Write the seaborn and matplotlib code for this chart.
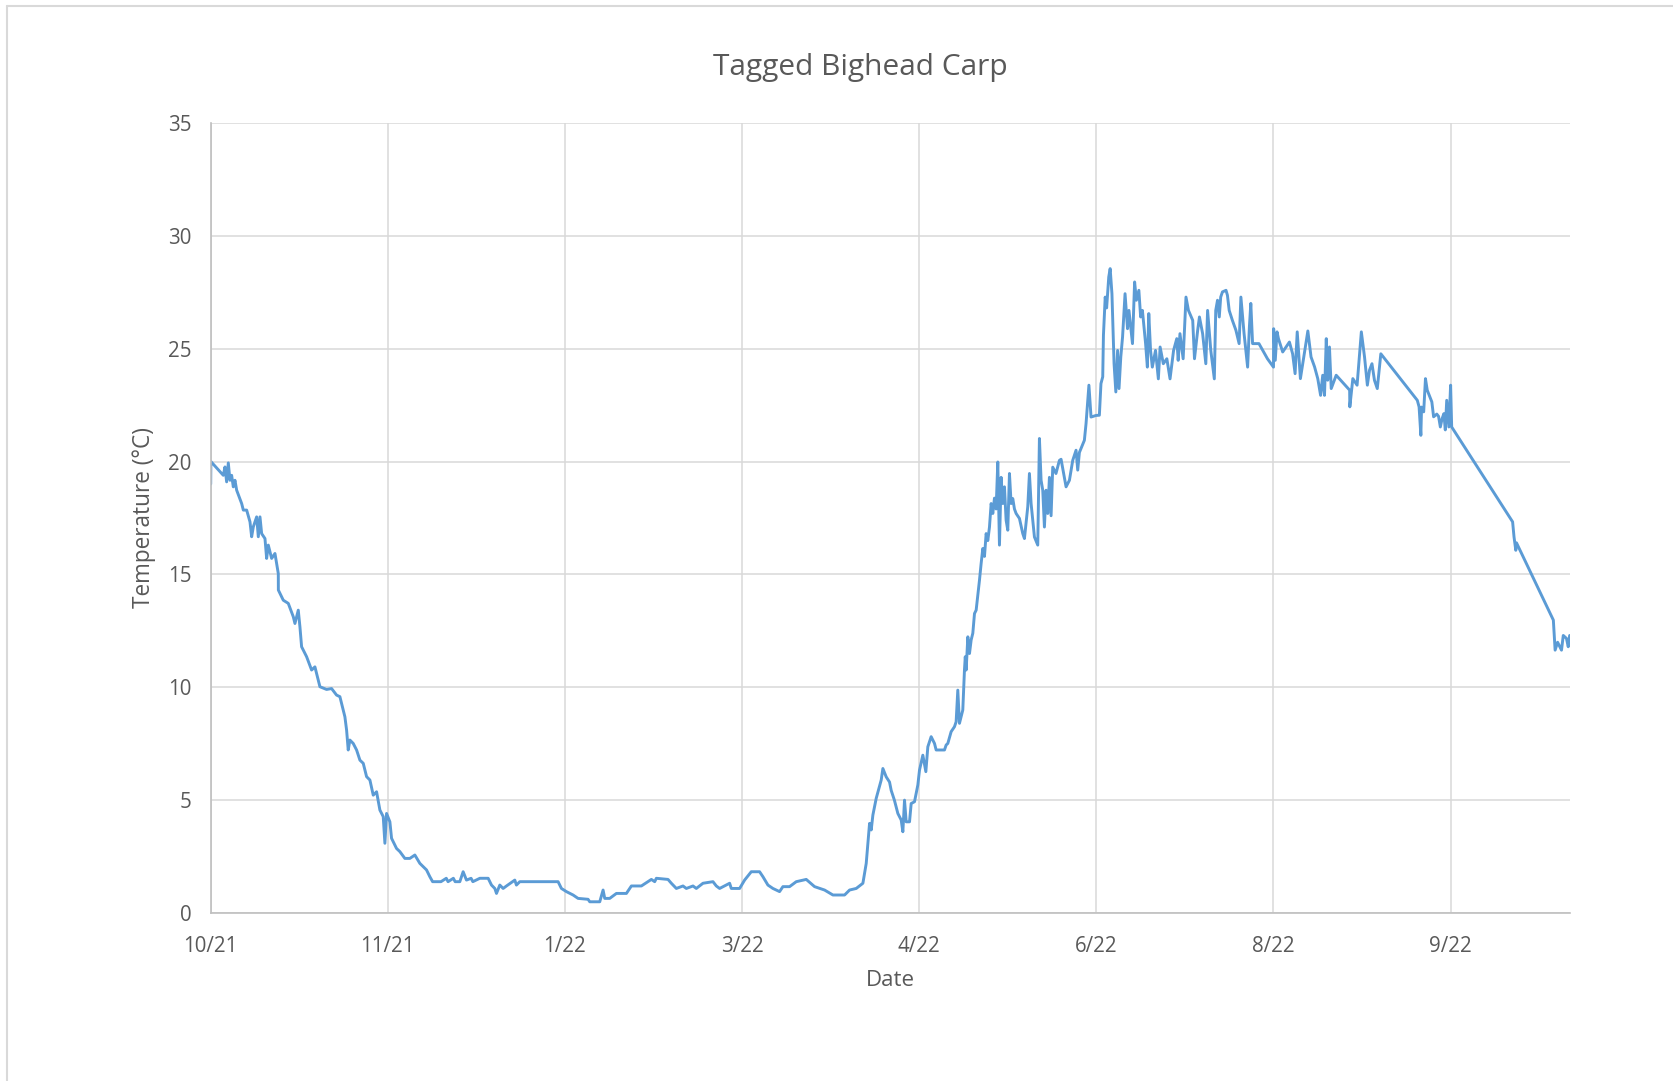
import pandas as pd
import numpy as np
import matplotlib
matplotlib.use("Agg")
import matplotlib.pyplot as plt
import seaborn as sns

# Data (days since first record, temperature in C)
days = [
    0.0, 0.05, 3.56, 4.03, 4.50, 4.97, 5.44, 5.91, 6.38, 6.85, 7.33, 8.74, 9.21, 10.15,
    11.09, 11.56, 12.03, 12.97, 13.44, 13.91, 14.38, 15.32, 15.79, 16.26, 17.20, 18.14,
    19.08, 19.10, 20.49, 21.90, 23.31, 23.78, 24.72, 25.19, 25.66, 27.07, 28.48, 29.42,
    30.83, 32.71, 34.12, 35.53, 36.47, 37.88, 38.36, 38.82, 39.29, 40.23, 41.18, 42.12,
    43.06, 44.00, 44.94, 45.88, 46.82, 47.76, 48.70, 49.17, 49.64, 50.58, 51.05, 52.46,
    53.40, 54.81, 56.22, 57.63, 59.04, 60.92, 61.86, 62.64, 65.0, 66.5, 67.0, 68.5, 69.0,
    70.32, 71.26, 72.20, 73.5, 74.0, 75.97, 78.32, 79.26, 80.20, 80.67, 81.61, 82.55,
    83.49, 85.84, 86.3, 87.25, 98.06, 99.0, 100.41, 102.29, 103.70, 106.52, 107.0,
    109.82, 110.76, 111.23, 112.64, 114.52, 117.34, 118.75, 121.57, 124.39, 125.33,
    125.80, 129.09, 130.03, 131.44, 133.32, 134.26, 136.14, 137.08, 138.96, 141.78,
    142.72, 143.66, 146.48, 146.95, 149.30, 150.71, 152.59, 154.94, 155.88, 157.29,
    158.70, 160.58, 161.52, 163.4, 165.29, 168.11, 170.46, 173.28, 175.64, 178.93,
    180.34, 182.22, 184.10, 185.04, 185.98, 186.45, 186.92, 187.86, 189.27, 189.74,
    190.68, 191.62, 192.09, 192.99, 193.97, 194.91, 195.38, 195.85, 196.32, 197.26,
    197.73, 198.67, 199.61, 200.08, 201.02, 201.87, 202.43, 203.37, 204.31, 204.78,
    207.13, 207.60, 208.07, 209.01, 209.95, 210.42, 210.89, 211.36, 211.83, 212.30,
    212.77, 213.0, 213.25, 213.72, 214.19, 214.66, 215.13, 215.60, 216.07, 217.01,
    217.48, 217.95, 218.42, 218.89, 219.36, 219.83, 220.30, 220.77, 221.24, 221.71,
    222.18, 222.65, 223.12, 223.59, 224.06, 224.53, 225.00, 225.47, 225.94, 226.41,
    226.88, 227.35, 228.29, 229.23, 229.70, 230.64, 231.11, 231.58, 232.52, 233.46,
    233.93, 234.40, 234.87, 235.34, 235.81, 236.28, 236.75, 237.22, 237.69, 238.6,
    239.57, 240.04, 241.45, 242.4, 243.33, 244.27, 244.74, 245.21, 246.62, 247.09,
    247.9, 248.5, 249.91, 250.85, 251.30, 251.80, 252.00, 252.50, 252.9, 253.50,
    253.90, 254.40, 255.00, 255.50, 256.00, 256.40, 256.90, 257.40, 258.10, 258.80,
    259.20, 259.7, 260.20, 260.80, 261.30, 262.00, 262.50, 263.0, 263.90, 264.40,
    264.80, 265.3, 265.80, 266.7, 267.50, 268.00, 268.9, 269.90, 270.80, 271.80,
    272.70, 273.1, 273.60, 274.50, 275.30, 276.0, 277.20, 277.70, 278.60, 279.10,
    280.0, 280.90, 281.40, 282.3, 283.30, 283.70, 284.20, 284.7, 285.10, 285.60,
    286.60, 287.00, 287.50, 288.40, 289.40, 290.30, 290.80, 291.70, 292.70, 293.20,
    293.60, 294.10, 295.90, 298.30, 300.00, 300.05, 300.50, 301.00, 301.40, 302.60,
    304.50, 305.40, 306.10, 306.70, 307.60, 309.70, 310.60, 311.60, 312.50, 313.30,
    313.90, 314.40, 314.90, 315.30, 315.80, 316.30, 317.70, 321.50, 321.55, 322.40,
    323.60, 324.80, 325.70, 326.50, 327.10, 327.80, 328.5, 329.30, 330.30, 340.60,
    341.10, 341.60, 341.80, 342.40, 342.90, 343.40, 344.70, 345.20, 346.10, 346.60,
    347.10, 347.60, 348.10, 348.50, 348.90, 349.50, 350.00, 350.30, 367.50, 367.90,
    368.40, 368.6, 379.00, 379.50, 380.2, 381.30, 381.8, 382.70, 383.20, 383.6,
]
temps = [
    19.0, 20.0, 19.39, 19.76, 19.10, 19.94, 19.17, 19.39, 18.88, 19.17, 18.73, 18.14, 17.85, 17.85,
    17.33, 16.67, 17.11, 17.55, 16.67, 17.55, 16.81, 16.59, 15.71, 16.30, 15.71, 15.93,
    15.04, 14.31, 13.86, 13.72, 13.13, 12.83, 13.42, 12.68, 11.80, 11.36, 10.77, 10.91,
    10.03, 9.91, 9.95, 9.66, 9.59, 8.70, 8.11, 7.23, 7.67, 7.52, 7.23, 6.78,
    6.64, 6.05, 5.90, 5.23, 5.38, 4.57, 4.28, 3.10, 4.42, 4.05, 3.32, 2.87,
    2.73, 2.43, 2.43, 2.58, 2.21, 1.92, 1.62, 1.40, 1.40, 1.55, 1.40, 1.55, 1.40,
    1.40, 1.84, 1.47, 1.55, 1.40, 1.55, 1.55, 1.25, 1.10, 0.88, 1.25, 1.10,
    1.21, 1.47, 1.25, 1.40, 1.40, 1.10, 0.96, 0.81, 0.66, 0.62, 0.51,
    0.51, 1.03, 0.66, 0.66, 0.88, 0.88, 1.21, 1.21, 1.50, 1.40,
    1.55, 1.50, 1.33, 1.10, 1.21, 1.10, 1.21, 1.10, 1.33, 1.40,
    1.21, 1.10, 1.33, 1.10, 1.10, 1.47, 1.84, 1.84, 1.62, 1.25,
    1.10, 0.96, 1.18, 1.18, 1.40, 1.50, 1.18, 1.03, 0.81, 0.81,
    1.03, 1.10, 1.33, 2.21, 3.98, 3.69, 4.35, 5.09, 5.90, 6.41,
    6.04, 5.81, 5.44, 5.01, 4.42, 4.13, 3.61, 5.01, 4.05, 4.05,
    4.86, 4.94, 5.68, 6.34, 7.00, 6.27, 7.37, 7.82, 7.52, 7.23,
    7.23, 7.45, 7.52, 8.04, 8.26, 8.48, 9.88, 8.41, 8.70, 9.00,
    10.77, 11.36, 10.77, 12.24, 11.50, 12.10, 12.40, 13.27, 13.42, 14.75,
    15.49, 16.15, 15.80, 16.81, 16.50, 17.10, 18.14, 17.70, 18.38, 17.90,
    19.98, 16.30, 19.30, 18.14, 18.88, 17.40, 16.96, 19.47, 18.14, 18.36,
    17.90, 17.70, 17.48, 16.81, 16.59, 18.00, 19.47, 18.14, 16.66, 16.30,
    21.02, 19.17, 18.73, 17.10, 18.73, 17.70, 19.30, 17.60, 19.75, 19.47,
    20.05, 20.10, 18.88, 19.17, 20.05, 20.50, 19.62, 20.40, 20.94, 21.68,
    23.38, 21.97, 22.04, 22.05, 23.45, 23.75, 25.59, 27.28, 26.8, 28.17,
    28.54, 27.43, 24.33, 23.08, 24.92, 23.23, 24.63, 25.52, 27.43, 25.88,
    26.69, 25.96, 25.22, 27.95, 27.14, 27.58, 26.40, 26.69, 25.22, 24.18,
    26.55, 24.92, 24.18, 24.92, 23.66, 25.07, 24.33, 24.55, 23.66, 24.92,
    25.44, 24.48, 25.66, 24.55, 27.28, 26.69, 26.25, 24.55, 25.81, 26.40,
    25.66, 24.33, 26.69, 24.92, 23.66, 26.69, 27.14, 26.40, 27.28, 27.51,
    27.58, 27.36, 26.69, 26.25, 25.81, 25.22, 27.28, 25.66, 24.18, 25.96,
    27.00, 25.22, 25.22, 24.55, 24.18, 25.88, 24.48, 25.74, 25.44, 24.85,
    25.29, 24.77, 23.89, 25.74, 23.67, 25.78, 24.63, 24.19, 23.67, 22.93,
    23.82, 22.93, 25.44, 23.60, 25.07, 23.23, 23.82, 23.16, 22.42, 23.67,
    23.38, 25.74, 24.63, 23.38, 24.04, 24.33, 23.60, 23.23, 24.77, 22.71,
    22.42, 21.16, 22.41, 22.20, 23.67, 23.16, 22.64, 21.98, 22.10, 22.00,
    21.53, 21.90, 22.12, 21.40, 22.71, 21.53, 23.38, 21.53, 17.33, 16.66,
    16.07, 16.4, 12.98, 11.65, 12.0, 11.65, 12.3, 12.17, 11.80, 12.3,
]

start_date = pd.Timestamp("2021-10-08")
tick_labels = ["10/21", "11/21", "1/22", "3/22", "4/22", "6/22", "8/22", "9/22"]
y_ticks = [0, 5, 10, 15, 20, 25, 30, 35]

df = pd.DataFrame({
    "Date": start_date + pd.to_timedelta(days, unit="D"),
    "Temperature": temps,
})
tick_dates = pd.date_range(start_date, periods=len(tick_labels), freq="50D")

sns.set_theme(style="white")
plt.rcParams["font.family"] = ["Open Sans", "DejaVu Sans"]

W, H = 1673, 1081
fig = plt.figure(figsize=(W / 100, H / 100), dpi=100)
ax = fig.add_axes([210.7 / W, 1 - 913.3 / H, (1570 - 210.7) / W, (913.3 - 122.7) / H])

sns.lineplot(data=df, x="Date", y="Temperature", ax=ax, color="#5B9BD5",
             linewidth=2.1, estimator=None, sort=False)

ax.set_xlim(start_date, start_date + pd.Timedelta(days=383.7))
ax.set_ylim(0, 35)
ax.set_yticks(y_ticks)
ax.set_xticks(tick_dates)
ax.set_xticklabels(tick_labels)

ax.grid(True, color="#d9d9d9", linewidth=1.1)
ax.set_axisbelow(True)
for side in ["top", "right"]:
    ax.spines[side].set_visible(False)
for side in ["left", "bottom"]:
    ax.spines[side].set_color("#bfbfbf")
    ax.spines[side].set_linewidth(1.2)

ax.tick_params(axis="both", length=0, labelsize=14.8, labelcolor="#595959")
ax.tick_params(axis="x", pad=16)
ax.tick_params(axis="y", pad=14)

ax.set_xlabel("Date", fontsize=16, color="#595959")
ax.set_ylabel("Temperature (°C)", fontsize=16.3, color="#595959")
ax.xaxis.set_label_coords(0.5, -0.0715)
ax.yaxis.set_label_coords(-0.0405, 0.5)

fig.text(860 / W, 1 - 68 / H, "Tagged Bighead Carp", ha="center", va="center",
         fontsize=21.5, color="#595959")

# chart area border (left and top edges visible in the screenshot)
fig.add_artist(plt.Line2D([7 / W, 7 / W], [0, 1 - 6 / H], transform=fig.transFigure,
                          color="#d9d9d9", linewidth=1.5))
fig.add_artist(plt.Line2D([7 / W, 1], [1 - 6 / H, 1 - 6 / H], transform=fig.transFigure,
                          color="#d9d9d9", linewidth=1.5))

fig.savefig("out.png", dpi=100, facecolor="white")
